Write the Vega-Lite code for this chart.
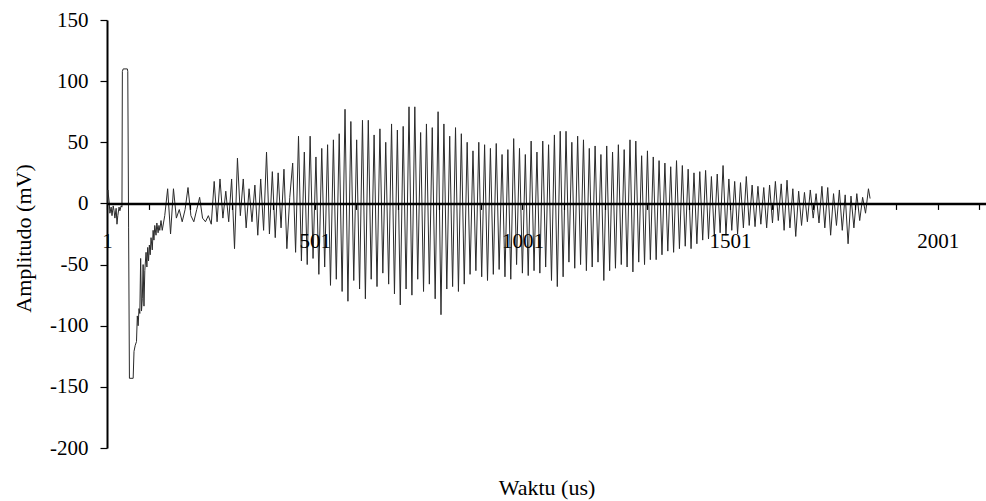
{
 "$schema": "https://vega.github.io/schema/vega-lite/v6.json",
 "width": 879,
 "height": 428,
 "autosize": {"type": "none"},
 "padding": {"left": 107, "top": 20, "right": 0, "bottom": 53},
 "background": "white",
 "config": {"view": {"stroke": null}, "font": "Liberation Serif"},
 "data": {"values": [
  {"t":1,"v":0},{"t":3,"v":11},{"t":6,"v":2},{"t":8,"v":-8},{"t":11,"v":-3},{"t":13,"v":-10},{"t":16,"v":-2},{"t":18,"v":-6},{"t":20,"v":-12},{"t":23,"v":-4},{"t":25,"v":-17},{"t":27,"v":-10},{"t":30,"v":-3},{"t":32,"v":-6},{"t":35,"v":-2},{"t":37,"v":-3},{"t":38,"v":108},{"t":40,"v":110},{"t":50,"v":110},{"t":51,"v":108},{"t":53,"v":-20},{"t":55,"v":-143},{"t":64,"v":-143},{"t":66,"v":-121},{"t":69,"v":-116},{"t":72,"v":-113},{"t":74,"v":-92},{"t":76,"v":-100},{"t":78,"v":-86},{"t":80,"v":-90},{"t":82,"v":-45},{"t":84,"v":-88},{"t":86,"v":-78},{"t":88,"v":-50},{"t":90,"v":-84},{"t":92,"v":-55},{"t":95,"v":-40},{"t":97,"v":-52},{"t":99,"v":-36},{"t":101,"v":-47},{"t":103,"v":-34},{"t":105,"v":-42},{"t":107,"v":-28},{"t":110,"v":-38},{"t":112,"v":-22},{"t":114,"v":-30},{"t":116,"v":-18},{"t":119,"v":-26},{"t":121,"v":-16},{"t":124,"v":-24},{"t":126,"v":-18},{"t":128,"v":-22},{"t":131,"v":-14},{"t":134,"v":-22},{"t":137,"v":-16},
  {"t":140,"v":-10},{"t":147,"v":12},{"t":154,"v":-25},{"t":161,"v":12},{"t":168,"v":-12},{"t":175,"v":-5},{"t":182,"v":-15},{"t":189,"v":-5},{"t":196,"v":13},{"t":203,"v":-10},{"t":210,"v":-15},{"t":217,"v":-5},{"t":224,"v":5},{"t":231,"v":-12},{"t":238,"v":-15},{"t":245,"v":-10},{"t":252,"v":-17},{"t":259,"v":18},{"t":266,"v":-15},{"t":273,"v":20},{"t":280,"v":-12},{"t":287,"v":10},{"t":294,"v":-15},{"t":301,"v":20},{"t":308,"v":-37},{"t":315,"v":37},{"t":322,"v":-10},{"t":329,"v":20},{"t":336,"v":-20},{"t":343,"v":12},{"t":350,"v":-15},{"t":357,"v":15},{"t":364,"v":-26},{"t":371,"v":20},{"t":378,"v":-22},{"t":385,"v":42},{"t":392,"v":-25},{"t":399,"v":26},{"t":406,"v":-28},{"t":413,"v":25},{"t":420,"v":-20},{"t":427,"v":28},{"t":434,"v":-37},{"t":441,"v":5},{"t":448,"v":33},{"t":455,"v":-40},
  {"t":462,"v":55},{"t":469,"v":-47},{"t":476,"v":42},{"t":483,"v":-50},{"t":490,"v":55},{"t":497,"v":-45},{"t":504,"v":38},{"t":511,"v":-58},{"t":518,"v":45},{"t":525,"v":-52},{"t":532,"v":48},{"t":539,"v":-67},{"t":546,"v":52},{"t":553,"v":-62},{"t":560,"v":57},{"t":567,"v":-72},{"t":574,"v":77},{"t":581,"v":-80},{"t":588,"v":67},{"t":595,"v":-63},{"t":602,"v":52},{"t":609,"v":-70},{"t":616,"v":68},{"t":623,"v":-78},{"t":630,"v":68},{"t":637,"v":-62},{"t":644,"v":56},{"t":651,"v":-68},{"t":658,"v":61},{"t":665,"v":-57},{"t":672,"v":50},{"t":679,"v":-66},{"t":686,"v":65},{"t":693,"v":-74},{"t":700,"v":60},{"t":707,"v":-83},{"t":714,"v":63},{"t":721,"v":-70},{"t":728,"v":79},{"t":735,"v":-75},{"t":742,"v":79},{"t":749,"v":-62},{"t":756,"v":58},{"t":763,"v":-72},{"t":770,"v":65},{"t":777,"v":-66},{"t":784,"v":62},{"t":791,"v":-78},{"t":798,"v":75},{"t":805,"v":-91},{"t":812,"v":65},{"t":819,"v":-70},{"t":826,"v":55},{"t":833,"v":-68},{"t":840,"v":62},{"t":847,"v":-72},{"t":854,"v":57},{"t":861,"v":-66},{"t":868,"v":50},{"t":875,"v":-58},{"t":882,"v":43},{"t":889,"v":-55},{"t":896,"v":50},{"t":903,"v":-60},{"t":910,"v":48},{"t":917,"v":-63},{"t":924,"v":45},{"t":931,"v":-58},{"t":938,"v":49},{"t":945,"v":-54},{"t":952,"v":40},{"t":959,"v":-60},{"t":966,"v":44},{"t":973,"v":-62},{"t":980,"v":53},{"t":987,"v":-50},{"t":994,"v":45},{"t":1001,"v":-57},{"t":1008,"v":40},{"t":1015,"v":-59},{"t":1022,"v":51},{"t":1029,"v":-55},{"t":1036,"v":42},{"t":1043,"v":-57},{"t":1050,"v":51},{"t":1057,"v":-52},{"t":1064,"v":48},{"t":1071,"v":-63},{"t":1078,"v":56},{"t":1085,"v":-68},{"t":1092,"v":59},{"t":1099,"v":-60},{"t":1106,"v":59},{"t":1113,"v":-48},{"t":1120,"v":50},{"t":1127,"v":-53},{"t":1134,"v":55},{"t":1141,"v":-50},{"t":1148,"v":52},{"t":1155,"v":-55},{"t":1162,"v":45},{"t":1169,"v":-52},{"t":1176,"v":47},{"t":1183,"v":-48},{"t":1190,"v":40},{"t":1197,"v":-63},{"t":1204,"v":47},{"t":1211,"v":-55},{"t":1218,"v":42},{"t":1225,"v":-53},{"t":1232,"v":48},{"t":1239,"v":-50},{"t":1246,"v":44},{"t":1253,"v":-52},{"t":1260,"v":52},{"t":1267,"v":-56},{"t":1274,"v":51},{"t":1281,"v":-48},{"t":1288,"v":39},{"t":1295,"v":-50},{"t":1302,"v":43},{"t":1309,"v":-46},{"t":1316,"v":38},{"t":1323,"v":-46},{"t":1330,"v":35},{"t":1337,"v":-42},{"t":1344,"v":33},{"t":1351,"v":-39},{"t":1358,"v":30},{"t":1365,"v":-40},{"t":1372,"v":35},{"t":1379,"v":-37},{"t":1386,"v":31},{"t":1393,"v":-35},{"t":1400,"v":28},{"t":1407,"v":-37},{"t":1414,"v":25},{"t":1421,"v":-33},{"t":1428,"v":26},{"t":1435,"v":-30},{"t":1442,"v":27},{"t":1449,"v":-29},{"t":1456,"v":22},{"t":1463,"v":-27},{"t":1470,"v":24},{"t":1477,"v":-24},{"t":1484,"v":31},{"t":1491,"v":-26},{"t":1498,"v":20},{"t":1505,"v":-22},{"t":1512,"v":18},{"t":1519,"v":-25},{"t":1526,"v":17},{"t":1533,"v":-20},{"t":1540,"v":22},{"t":1547,"v":-18},{"t":1554,"v":15},{"t":1561,"v":-19},{"t":1568,"v":14},{"t":1575,"v":-17},{"t":1582,"v":13},{"t":1589,"v":-20},{"t":1596,"v":15},{"t":1603,"v":-16},{"t":1610,"v":18},{"t":1617,"v":-14},{"t":1624,"v":16},{"t":1631,"v":-22},{"t":1638,"v":19},{"t":1645,"v":-20},{"t":1652,"v":12},{"t":1659,"v":-27},{"t":1666,"v":10},{"t":1673,"v":-18},{"t":1680,"v":9},{"t":1687,"v":-15},{"t":1694,"v":11},{"t":1701,"v":-12},{"t":1708,"v":8},{"t":1715,"v":-16},{"t":1722,"v":14},{"t":1729,"v":-20},{"t":1736,"v":13},{"t":1743,"v":-26},{"t":1750,"v":8},{"t":1757,"v":-18},{"t":1764,"v":11},{"t":1771,"v":-22},{"t":1778,"v":7},{"t":1785,"v":-33},{"t":1792,"v":6},{"t":1799,"v":-20},{"t":1806,"v":8},{"t":1813,"v":-14},{"t":1820,"v":5},{"t":1827,"v":-8},{"t":1834,"v":12},{"t":1838,"v":4}
 ]},
 "mark": {"type": "line", "color": "#2a2a2a", "strokeWidth": 1, "clip": true},
 "encoding": {
  "x": {
   "field": "t", "type": "quantitative",
   "scale": {"domain": [1, 2117], "nice": false, "zero": false},
   "axis": {
    "title": "Waktu (us)",
    "values": [1,101,201,301,401,501,601,701,801,901,1001,1101,1201,1301,1401,1501,1601,1701,1801,1901,2001,2101],
    "labelExpr": "(datum.value - 1) % 500 === 0 ? '' + datum.value : ''",
    "offset": {"expr": "scale('y', 0) - height"},
    "zindex": 1,
    "grid": false,
    "domainColor": "black", "domainWidth": 2.5,
    "tickColor": "black", "tickSize": 6, "tickWidth": 1.2,
    "labelFontSize": 21, "labelColor": "black", "labelPadding": 21,
    "labelOverlap": false, "labelFlush": false, "labelBound": false,
    "titleFontSize": 22, "titleFontWeight": "normal", "titleColor": "black",
    "titleY": 291, "titleBaseline": "alphabetic"
   }
  },
  "y": {
   "field": "v", "type": "quantitative",
   "scale": {"domain": [-200, 150], "nice": false},
   "axis": {
    "title": "Amplitudo (mV)",
    "values": [-200,-150,-100,-50,0,50,100,150],
    "labelExpr": "'' + datum.value",
    "grid": false,
    "domainColor": "black", "domainWidth": 2,
    "tickColor": "black", "tickSize": 7, "tickWidth": 1.2,
    "labelFontSize": 21, "labelColor": "black", "labelPadding": 12,
    "titleFontSize": 22, "titleFontWeight": "normal", "titleColor": "black",
    "titleX": -72, "titleY": 218, "titleBaseline": "bottom"
   }
  }
 }
}
